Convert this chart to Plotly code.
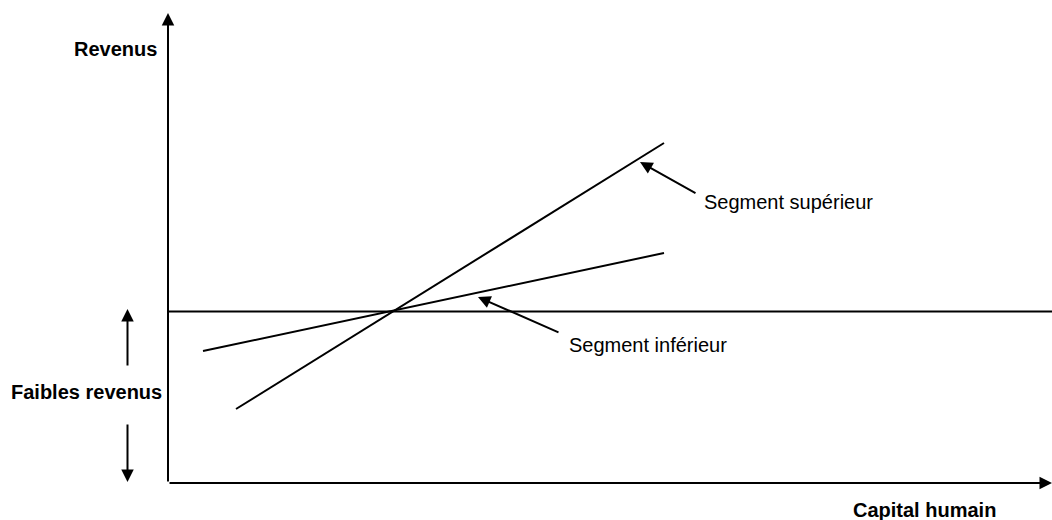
import plotly.graph_objects as go

# --- data (conceptual units: Capital humain on x, Revenus on y) ---
capital_sup = [0.68, 4.96]
revenus_sup = [0.74, 3.40]
capital_inf = [0.35, 4.96]
revenus_inf = [1.32, 2.30]
seuil_revenu = 1.715
x_max = 8.84
y_max = 4.70

labels = {
    "y": "Revenus",
    "x": "Capital humain",
    "faibles": "Faibles revenus",
    "sup": "Segment supérieur",
    "inf": "Segment inférieur",
}

FONT = "Liberation Sans, Arial, sans-serif"
LW = 2

fig = go.Figure()

fig.add_trace(go.Scatter(x=capital_sup, y=revenus_sup, mode="lines",
                         line=dict(color="black", width=LW), hoverinfo="skip"))
fig.add_trace(go.Scatter(x=capital_inf, y=revenus_inf, mode="lines",
                         line=dict(color="black", width=LW), hoverinfo="skip"))
fig.add_trace(go.Scatter(x=[0, x_max], y=[seuil_revenu, seuil_revenu], mode="lines",
                         line=dict(color="black", width=LW), hoverinfo="skip"))

def arrow(x0, y0, x1, y1):
    # arrow from (x0,y0) tail to (x1,y1) tip
    fig.add_annotation(x=x1, y=y1, ax=x0, ay=y0, xref="x", yref="y",
                       axref="x", ayref="y", text="", showarrow=True,
                       arrowhead=2, arrowsize=1.25, arrowwidth=LW,
                       arrowcolor="black")

# axes
arrow(0, 0, x_max, 0)
arrow(0, 0, 0, y_max)
# faibles revenus arrows
arrow(-0.405, 1.16, -0.405, 1.74)
arrow(-0.405, 0.60, -0.405, 0.01)
# pointers to segments
arrow(5.29, 2.89, 4.72, 3.21)
arrow(3.92, 1.50, 3.10, 1.86)

def label(text, x, y, xanchor, bold=False):
    fig.add_annotation(x=x, y=y, xref="x", yref="y", text=f"<b>{text}</b>" if bold else text,
                       showarrow=False, xanchor=xanchor, yanchor="middle",
                       font=dict(family=FONT, size=20, color="black"))

label(labels["y"], -0.09, 4.34, "right", bold=True)
label(labels["faibles"], -0.04, 0.91, "right", bold=True)
label(labels["x"], 8.30, -0.27, "right", bold=True)
label(labels["sup"], 5.34, 2.81, "left")
label(labels["inf"], 3.99, 1.38, "left")

fig.update_layout(
    width=1052, height=520,
    margin=dict(l=0, r=0, t=0, b=0),
    paper_bgcolor="white", plot_bgcolor="white",
    showlegend=False,
    xaxis=dict(range=[-1.68, 8.84], visible=False, fixedrange=True),
    yaxis=dict(range=[-0.37, 4.83], visible=False, fixedrange=True),
)

fig.write_html("out.html", config={"displayModeBar": False},
               post_script="document.body.style.margin='0';")
